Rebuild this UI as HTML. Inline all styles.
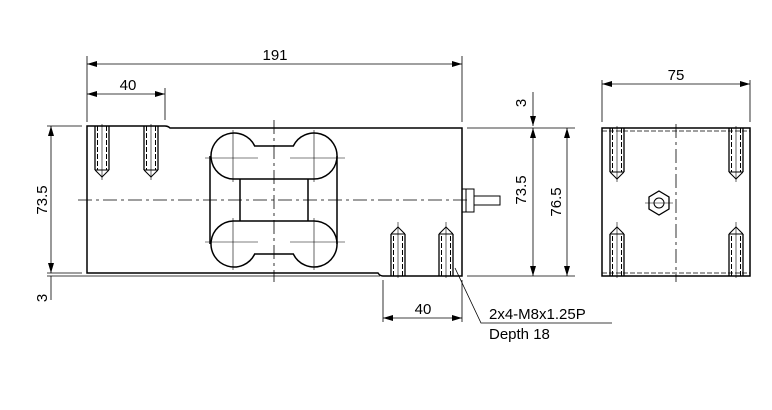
<!DOCTYPE html>
<html><head><style>body{margin:0;background:#fff}svg{display:block}text{font-family:"Liberation Sans",sans-serif;font-size:15px;fill:#000}</style></head><body>
<svg width="772" height="410" viewBox="0 0 772 410" xmlns="http://www.w3.org/2000/svg">
<defs>
<marker id="a" viewBox="0 0 10 6" refX="10" refY="3" markerWidth="10" markerHeight="6" orient="auto-start-reverse" markerUnits="userSpaceOnUse"><path d="M0,0L10,3L0,6z" fill="#000"/></marker>
<g id="hd"><path d="M-7,0V44M7,0V44" stroke="#000" stroke-width="1.3" fill="none"/><path d="M-4.5,0V44M4.5,0V44" stroke="#000" stroke-width="1" stroke-dasharray="5,2" fill="none"/><path d="M-7,44L0,51L7,44M-7,44H7" stroke="#000" fill="none"/><path d="M0,-2V54" stroke="#000" stroke-width=".6"/></g>
<g id="hu"><path d="M-7,0V-42M7,0V-42" stroke="#000" stroke-width="1.3" fill="none"/><path d="M-4.5,0V-42M4.5,0V-42" stroke="#000" stroke-width="1" stroke-dasharray="5,2" fill="none"/><path d="M-7,-42L0,-49L7,-42M-7,-42H7" stroke="#000" fill="none"/><path d="M0,2V-54" stroke="#000" stroke-width=".6"/></g>
</defs>
<g stroke="#000" fill="none" stroke-width="1">
<path d="M87,126H165Q168,126 170,128H462V276H383Q380,276 378,273H87Z" stroke-width="1.5"/>
<path d="M47,126H82M47,273H82M47,276H380M467,128H575M467,276H575" stroke-width=".8"/>
<path stroke-width="1.5" d="M254.7,146H293.3A23,23 0 1 1 314,179H233A23,23 0 1 1 254.7,146Z"/>
<path stroke-width="1.5" d="M254.7,254H293.3A23,23 0 1 0 314,221H233A23,23 0 1 0 254.7,254Z"/>
<path stroke-width="1.5" d="M210,156V244M337,156V244M240,179V221M308,179V221"/>
<path stroke-width=".6" d="M233,130V182M314,130V182M233,218V270M314,218V270M205,158H258M290,158H345M205,242H258M290,242H345"/>
<path stroke-width=".8" stroke-dasharray="14,4,3,4" d="M274,120V282M78,200H470"/>
<path d="M462,189H474V212H462M466,189V212M474,196H500V205H474"/>
<use href="#hd" x="102" y="126"/><use href="#hd" x="151" y="126"/>
<use href="#hu" x="398" y="276"/><use href="#hu" x="446" y="276"/>
<path stroke-width=".8" d="M87,56V122M462,56V122M165,88V120M383,280V322M462,280V322"/>
<line x1="87" y1="64" x2="462" y2="64" marker-start="url(#a)" marker-end="url(#a)" stroke-width=".8"/>
<line x1="87" y1="94" x2="165" y2="94" marker-start="url(#a)" marker-end="url(#a)" stroke-width=".8"/>
<line x1="383" y1="318" x2="462" y2="318" marker-start="url(#a)" marker-end="url(#a)" stroke-width=".8"/>
<line x1="51" y1="126" x2="51" y2="273" marker-start="url(#a)" marker-end="url(#a)" stroke-width=".8"/>
<path d="M51,276V300" stroke-width=".8"/>
<line x1="533" y1="128" x2="533" y2="276" marker-start="url(#a)" marker-end="url(#a)" stroke-width=".8"/>
<line x1="533" y1="92" x2="533" y2="126" marker-end="url(#a)" stroke-width=".8"/>
<line x1="567" y1="128" x2="567" y2="276" marker-start="url(#a)" marker-end="url(#a)" stroke-width=".8"/>
<path d="M455,268L481,323H612" stroke-width=".8"/>
<rect x="602" y="128" width="148" height="148" stroke-width="1.5"/>
<path d="M602,131H750M602,273H750" stroke-width=".8" stroke-dasharray="5,2"/>
<path d="M602,80V122M750,80V122" stroke-width=".8"/>
<line x1="602" y1="84" x2="750" y2="84" marker-start="url(#a)" marker-end="url(#a)" stroke-width=".8"/>
<path d="M676,124V282" stroke-width=".8" stroke-dasharray="14,4,3,4"/>
<path d="M659,191L669,197V209L659,215L649,209V197Z" stroke-width="1.3"/>
<circle cx="659" cy="203" r="5"/>
<path d="M645,203H673" stroke-width=".6"/>
<use href="#hd" x="617" y="128"/><use href="#hd" x="736" y="128"/>
<use href="#hu" x="617" y="276"/><use href="#hu" x="736" y="276"/>
</g>
<text x="275" y="60" text-anchor="middle">191</text>
<text x="128" y="90" text-anchor="middle">40</text>
<text x="423" y="314" text-anchor="middle">40</text>
<text x="676" y="80" text-anchor="middle">75</text>
<text transform="translate(47,200) rotate(-90)" text-anchor="middle">73.5</text>
<text transform="translate(47,298) rotate(-90)" text-anchor="middle">3</text>
<text transform="translate(526,190) rotate(-90)" text-anchor="middle">73.5</text>
<text transform="translate(526,103) rotate(-90)" text-anchor="middle">3</text>
<text transform="translate(561,202) rotate(-90)" text-anchor="middle">76.5</text>
<text x="489" y="319">2x4-M8x1.25P</text>
<text x="489" y="339">Depth 18</text>
</svg>
</body></html>
